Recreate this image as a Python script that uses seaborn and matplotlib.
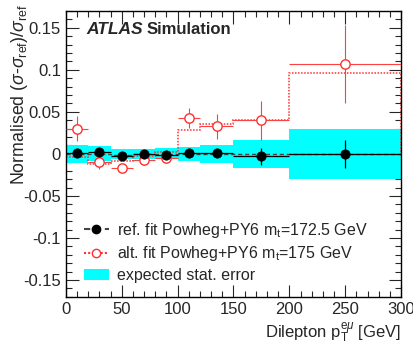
import numpy as np
import pandas as pd
import matplotlib
matplotlib.use("Agg")
import matplotlib.pyplot as plt
import seaborn as sns
from matplotlib.lines import Line2D
from matplotlib.patches import Patch
from matplotlib.ticker import MultipleLocator

# bin edges in dilepton pT [GeV]
edges = [0, 20, 40, 60, 80, 100, 120, 150, 200, 300]
centres = [10, 30, 50, 70, 90, 110, 135, 175, 250]

# expected statistical error (half width of band)
stat_err = [0.0105, 0.009, 0.0055, 0.006, 0.0065, 0.008, 0.011, 0.017, 0.030]

# reference fit (Powheg+PY6, mt=172.5)
ref_fit = [0.0, 0.0, -0.001, 0.0, 0.0, 0.0, 0.0, 0.0, 0.0]
ref_val = [0.001, 0.002, -0.002, 0.0, -0.001, 0.001, 0.001, -0.003, 0.0]
ref_err = [0.004, 0.004, 0.003, 0.003, 0.003, 0.003, 0.004, 0.010, 0.017]

# alternative fit (Powheg+PY6, mt=175)
alt_fit = [-0.004, -0.012, -0.008, -0.003, 0.002, 0.029, 0.035, 0.040, 0.096]
alt_val = [0.030, -0.010, -0.017, -0.007, -0.005, 0.043, 0.033, 0.040, 0.107]
alt_err = [0.015, 0.008, 0.005, 0.006, 0.006, 0.012, 0.015, 0.023, 0.046]

df = pd.DataFrame({"x": centres, "ref": ref_val, "alt": alt_val})
xerr = np.diff(edges) / 2

sns.set_theme(style="ticks")
plt.rcParams["font.family"] = ["Liberation Sans", "DejaVu Sans"]
plt.rcParams["mathtext.fontset"] = "custom"
plt.rcParams["mathtext.rm"] = "Liberation Sans"
plt.rcParams["mathtext.it"] = "Liberation Sans:italic"

fig = plt.figure(figsize=(4.14, 3.53), dpi=100)
ax = fig.add_axes([0.159, 0.159, 0.81, 0.81])

# stat error band
band_lo = -np.array(stat_err)
ax.bar(edges[:-1], 2 * np.array(stat_err), width=np.diff(edges), bottom=band_lo,
       align="edge", color="#00ffff", linewidth=0, zorder=1)

ax.stairs(ref_fit, edges, color="#444444", linestyle=(0, (3, 2)), linewidth=1, zorder=2)
ax.stairs(alt_fit, edges, color="#ff3030", linestyle=(0, (1, 1)), linewidth=1.1, zorder=2)

ax.errorbar(df["x"], df["alt"], xerr=xerr, yerr=alt_err, fmt="none",
            ecolor="#ff4040", elinewidth=0.8, zorder=3)
sns.scatterplot(data=df, x="x", y="alt", ax=ax, marker="o", s=45,
                facecolor="white", edgecolor="#ff3030", linewidth=1, zorder=4)
ax.errorbar(df["x"], df["ref"], xerr=xerr, yerr=ref_err, fmt="none",
            ecolor="black", elinewidth=0.9, zorder=5)
sns.scatterplot(data=df, x="x", y="ref", ax=ax, marker="o", s=45,
                color="black", edgecolor="black", zorder=6)

ax.set_xlim(0, 300)
ax.set_ylim(-0.17, 0.17)
ax.xaxis.set_major_locator(MultipleLocator(50))
ax.xaxis.set_minor_locator(MultipleLocator(10))
ax.yaxis.set_minor_locator(MultipleLocator(0.01))
ax.set_yticks([-0.15, -0.1, -0.05, 0, 0.05, 0.1, 0.15])
ax.set_yticklabels(["-0.15", "-0.1", "-0.05", "0", "0.05", "0.1", "0.15"])
ax.tick_params(which="both", direction="in", top=True, right=True, labelsize=12, width=0.8)
ax.tick_params(which="major", length=9)
ax.tick_params(which="minor", length=4.5)
for s in ax.spines.values():
    s.set_linewidth(1)
    s.set_color("black")

ax.set_xlabel(r"Dilepton p$_\mathrm{T}^{\mathrm{e}\mu}$ [GeV]", fontsize=12, loc="right")
ax.set_ylabel(r"Normalised ($\sigma$-$\sigma_\mathrm{ref}$)/$\sigma_\mathrm{ref}$",
              fontsize=12.8, loc="top")
ax.xaxis.set_label_coords(1.0, -0.084)
ax.yaxis.set_label_coords(-0.107, 1.025)

ax.text(0.062, 0.935, "ATLAS", transform=ax.transAxes, fontsize=12.5,
        fontweight="bold", fontstyle="italic", va="center")
ax.text(0.242, 0.935, "Simulation", transform=ax.transAxes, fontsize=12,
        fontweight="bold", va="center")

handles = [
    Line2D([0], [0], color="#444444", linestyle=(0, (3, 2)), marker="o",
           markerfacecolor="black", markeredgecolor="black", markersize=6),
    Line2D([0], [0], color="#ff3030", linestyle=(0, (1, 1)), marker="o",
           markerfacecolor="white", markeredgecolor="#ff3030", markersize=6),
    Patch(facecolor="#00ffff", edgecolor="none"),
]
labels = [r"ref. fit Powheg+PY6 m$_\mathrm{t}$=172.5 GeV",
          r"alt. fit Powheg+PY6 m$_\mathrm{t}$=175 GeV",
          "expected stat. error"]
ax.legend(handles, labels, loc="lower left", bbox_to_anchor=(0.02, 0.01),
          frameon=False, fontsize=11.5, handlelength=1.6, handletextpad=0.5,
          labelspacing=0.28, borderaxespad=0.3)

fig.savefig("out.png", dpi=100)
